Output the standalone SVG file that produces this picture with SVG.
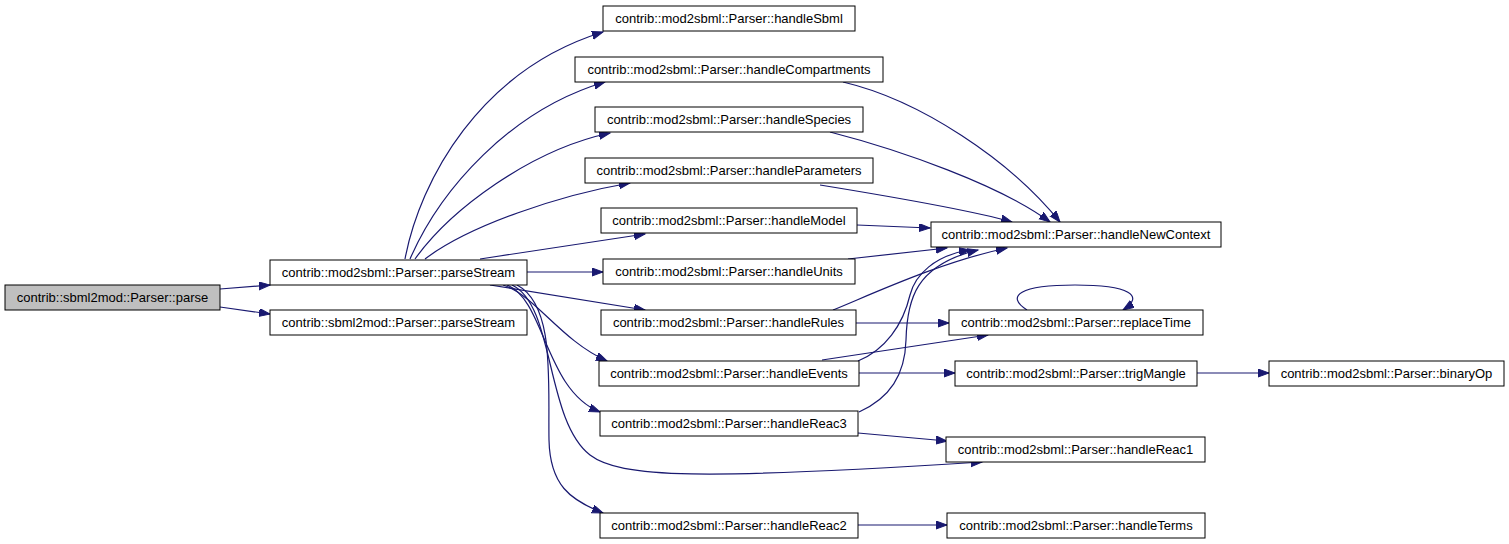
<svg xmlns="http://www.w3.org/2000/svg" width="1509" height="544" viewBox="0 0 1509 544">
<style>
.n rect{fill:#fff;stroke:#000;stroke-width:1}
.n.root rect{fill:#bfbfbf}
.n text{font-family:"Liberation Sans",Arial,sans-serif;font-size:13px;fill:#000;text-anchor:middle}
.e path{fill:none;stroke:#191970;stroke-width:1.2;marker-end:url(#ah)}
</style>
<defs>
<marker id="ah" markerUnits="userSpaceOnUse" markerWidth="13" markerHeight="10" refX="11" refY="4" orient="auto">
<path d="M0,0 L11,4 L0,8 z" fill="#191970" stroke="#191970" stroke-width="1"/>
</marker>
</defs>
<rect width="1509" height="544" fill="#fff"/>
<g id="edges" class="e">
<path d="M220,289 L270,285"/>
<path d="M220,307 L270,314"/>
<path d="M405,259 C420,180 480,70 603,32"/>
<path d="M410,259 C440,190 510,110 605,82"/>
<path d="M415,259 C450,210 530,150 610,133"/>
<path d="M425,259 C470,225 560,195 630,183"/>
<path d="M480,259 L645,234"/>
<path d="M527,272 L603,272"/>
<path d="M490,285 L645,310"/>
<path d="M503,285 C535,295 560,340 607,361"/>
<path d="M507,285 C545,300 545,390 600,412"/>
<path d="M512,285 C555,305 545,420 590,455 C620,478 700,480 982,462"/>
<path d="M517,285 C555,305 548,380 549,440 C550,485 570,500 603,513"/>
<path d="M843,82 C920,100 1010,160 1060,222"/>
<path d="M830,132 C900,150 1000,185 1050,222"/>
<path d="M820,185 C900,198 970,210 1012,222"/>
<path d="M857,225 L930,228"/>
<path d="M848,259 L947,248"/>
<path d="M833,310 C870,295 940,262 1007,248"/>
<path d="M858,361 C885,350 903,325 910,295 C915,275 935,255 970,250"/>
<path d="M859,412 C890,398 905,375 906,340 C907,300 915,265 978,250"/>
<path d="M822,360 L988,335"/>
<path d="M856,323 L949,323"/>
<path d="M1027,310 C1005,296 1020,285 1075,285 C1130,285 1145,296 1123,310"/>
<path d="M859,373 L955,373"/>
<path d="M1197,373 L1269,373"/>
<path d="M858,433 L947,441"/>
<path d="M858,525 L947,525"/>
</g>
<g id="parse" class="n root"><rect x="5" y="285" width="215" height="25"/><text x="112.5" y="302">contrib::sbml2mod::Parser::parse</text></g>
<g id="mod2sbml_parseStream" class="n"><rect x="270" y="260" width="257" height="25"/><text x="398.5" y="277">contrib::mod2sbml::Parser::parseStream</text></g>
<g id="sbml2mod_parseStream" class="n"><rect x="270" y="310" width="257" height="25"/><text x="398.5" y="327">contrib::sbml2mod::Parser::parseStream</text></g>
<g id="handleSbml" class="n"><rect x="603" y="6" width="252" height="25"/><text x="729" y="23">contrib::mod2sbml::Parser::handleSbml</text></g>
<g id="handleCompartments" class="n"><rect x="575" y="57" width="308" height="25"/><text x="729" y="74">contrib::mod2sbml::Parser::handleCompartments</text></g>
<g id="handleSpecies" class="n"><rect x="595" y="107" width="268" height="25"/><text x="729" y="124">contrib::mod2sbml::Parser::handleSpecies</text></g>
<g id="handleParameters" class="n"><rect x="585" y="158" width="288" height="25"/><text x="729" y="175">contrib::mod2sbml::Parser::handleParameters</text></g>
<g id="handleModel" class="n"><rect x="601" y="208" width="256" height="25"/><text x="729" y="225">contrib::mod2sbml::Parser::handleModel</text></g>
<g id="handleUnits" class="n"><rect x="603" y="259" width="252" height="25"/><text x="729" y="276">contrib::mod2sbml::Parser::handleUnits</text></g>
<g id="handleRules" class="n"><rect x="601" y="310" width="255" height="25"/><text x="728.5" y="327">contrib::mod2sbml::Parser::handleRules</text></g>
<g id="handleEvents" class="n"><rect x="599" y="361" width="260" height="25"/><text x="729" y="378">contrib::mod2sbml::Parser::handleEvents</text></g>
<g id="handleReac3" class="n"><rect x="600" y="411" width="258" height="25"/><text x="729" y="428">contrib::mod2sbml::Parser::handleReac3</text></g>
<g id="handleReac2" class="n"><rect x="600" y="513" width="258" height="25"/><text x="729" y="530">contrib::mod2sbml::Parser::handleReac2</text></g>
<g id="handleNewContext" class="n"><rect x="931" y="222" width="290" height="25"/><text x="1076" y="239">contrib::mod2sbml::Parser::handleNewContext</text></g>
<g id="replaceTime" class="n"><rect x="949" y="310" width="254" height="25"/><text x="1076" y="327">contrib::mod2sbml::Parser::replaceTime</text></g>
<g id="trigMangle" class="n"><rect x="955" y="361" width="242" height="25"/><text x="1076" y="378">contrib::mod2sbml::Parser::trigMangle</text></g>
<g id="handleReac1" class="n"><rect x="946" y="437" width="259" height="25"/><text x="1075.5" y="454">contrib::mod2sbml::Parser::handleReac1</text></g>
<g id="handleTerms" class="n"><rect x="947" y="513" width="258" height="25"/><text x="1076" y="530">contrib::mod2sbml::Parser::handleTerms</text></g>
<g id="binaryOp" class="n"><rect x="1269" y="361" width="235" height="25"/><text x="1386.5" y="378">contrib::mod2sbml::Parser::binaryOp</text></g>
</svg>
